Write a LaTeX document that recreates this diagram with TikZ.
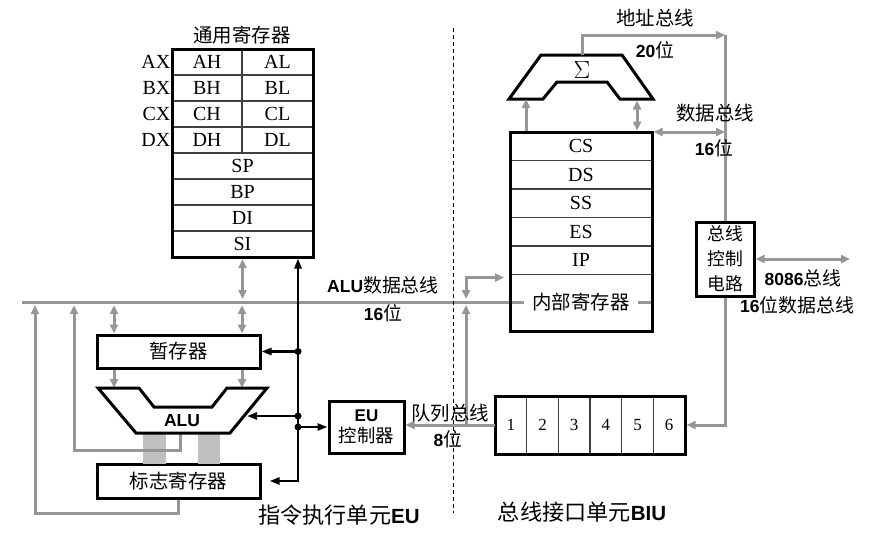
\documentclass[tikz,border=0pt]{standalone}
\usepackage{fontspec}
\setmainfont{Liberation Serif}
\setsansfont{Liberation Sans}
\newfontfamily\cjk[Scale=1.08]{Noto Sans CJK SC}
\newcommand\zh[1]{{\cjk\mdseries #1}}
\usetikzlibrary{arrows.meta,positioning}
\definecolor{busgray}{RGB}{150,150,150}
\definecolor{bargray}{RGB}{192,192,192}
\tikzset{
  regcell/.style={draw=black!75, line width=1.2pt, outer sep=0pt, inner sep=0pt, minimum height=26pt, font=\fontsize{20}{20}\selectfont},
  unitbox/.style={draw, line width=3pt, inner sep=0pt, align=center, font=\fontsize{18}{24}\selectfont\cjk},
  bus/.style={draw=busgray, line width=3pt, >={Triangle[length=9pt,width=8pt]}},
  ctl/.style={draw=black, line width=2.5pt, >={Triangle[length=10pt,width=7pt]}},
  lab/.style={inner sep=0pt, font=\fontsize{17.5}{20}\selectfont\sffamily\bfseries},
  zhlab/.style={inner sep=0pt, font=\fontsize{18}{20}\selectfont\cjk},
  dot/.style={circle, fill, inner sep=0pt, minimum size=7pt},
}
\begin{document}
\begin{tikzpicture}[x=1pt, y=-1pt]
\useasboundingbox (0,0) rectangle (894,536);

% general registers
\node[zhlab] (gtitle) at (242,35) {通用寄存器};
\foreach \r [count=\i] in {A,B,C,D} {
  \node[regcell, minimum width=70pt] (\r H) at (207,36+26*\i) {\r H};
  \node[regcell, minimum width=71pt, right=0pt of \r H] (\r L) {\r L};
  \node[anchor=east, inner sep=1.5pt, font=\fontsize{20}{20}\selectfont] (\r X) at (\r H.west) {\r X};
}
\foreach \n [count=\i] in {SP,BP,DI,SI}
  \node[regcell, minimum width=141pt] (\n) at (242.5,140+26*\i) {\n};
\draw[line width=3pt] (AH.north west) rectangle (SI.south east);

% segment registers
\foreach \n [count=\i] in {CS,DS,SS,ES,IP}
  \node[regcell, minimum width=142pt, minimum height=28.5pt] (\n) at (581,117.75+28.5*\i) {\n};
\node[minimum width=142pt, minimum height=56.5pt, outer sep=0pt, anchor=north] (inreg) at (IP.south) {};

% ALU data bus
\coordinate (busL) at (22,302);
\draw[bus] (busL) -- (busL -| inreg.east);
\node[zhlab, fill=white, inner xsep=8pt, inner ysep=2pt] (inregtxt) at (inreg.center |- busL) {内部寄存器};
\draw[line width=3pt] (CS.north west) rectangle (inreg.south east);
\node[lab] (alubus) at (383,285) {ALU\zh{数据总线}};
\node[lab] (alubusw) at (383,313) {16\zh{位}};

% adder
\draw[line width=3pt, line join=miter] (541,55) -- (622,55) -- (653,99) -- (620,99) -- (607,82) -- (557,82) -- (543,99) -- (509,99) -- cycle;
\node (sig) at (582,70) {\fontsize{23}{23}\selectfont$\Sigma$};
\coordinate (sigT) at (582,55);
\coordinate (sigL) at (526,99);
\coordinate (sigR) at (637,99);
\draw[bus,->,shorten <=1.5pt] (CS.north -| sigL) -- (sigL);
\draw[bus,<->,shorten <=1.5pt,shorten >=1.5pt] (CS.north -| sigR) -- (sigR);

% bus control
\node[unitbox, minimum width=58pt, minimum height=74pt, font=\fontsize{16.5}{25}\selectfont\cjk] (buc) at (725,259) {总线\\控制\\电路};
\coordinate (abus) at (725,35);
\draw[bus,->] (sigT) |- (abus);
\draw[bus] (abus) -- (buc.north);
\node[zhlab] (abuslab) at (655,18) {地址总线};
\node[lab] (abusw) at (655,50) {20\zh{位}};
\draw[bus,<->,shorten <=1.5pt] (CS.north east) -- (CS.north east -| abus);
\node[zhlab] (dbuslab) at (715,113) {数据总线};
\node[lab] (dbusw) at (714,148) {16\zh{位}};
\coordinate (ext) at (850,259);
\draw[bus,<->] (buc.east) -- (ext);
\node[lab] (extlab) at (803,278) {8086\zh{总线}};
\node[lab] (extw) at (797,305) {16\zh{位数据总线}};

% instruction queue
\foreach \i in {1,...,6}
  \node[regcell, line width=1.5pt, minimum width=31.67pt, minimum height=58pt, font=\fontsize{17}{17}\selectfont] (q\i) at (495+31.67*\i-15.83,425) {\i};
\draw[line width=3pt] (q1.north west) rectangle (q6.south east);
\draw[bus,->,shorten >=1.5pt] (buc.south) |- (q6.east);

% EU control
\node[unitbox, minimum width=75pt, minimum height=52pt, font=\fontsize{17}{21}\selectfont\cjk] (euc) at (366.5,427) {\textsf{\bfseries EU}\\控制器};
\draw[bus,->] (q1.west) -- (q1.west -| euc.east);
\coordinate (qj) at (466,425);
\coordinate (biuin) at ([yshift=-3pt]IP.south west);
\draw[bus,->,shorten >=3pt] (qj) -- (qj |- busL);
\draw[bus,<->,shorten <=3pt,shorten >=6pt] (qj |- busL) |- (biuin);
\node[zhlab] (qbuslab) at (450,413) {队列总线};
\node[lab] (qbusw) at (448,439) {8\zh{位}};

% divider
\draw[dashed, dash pattern=on 4pt off 3pt, line width=1pt] (453,28) -- (453,513);

% execution unit
\node[unitbox, minimum width=163pt, minimum height=33pt] (tmp) at (178.5,351.5) {暂存器};
\node[unitbox, minimum width=163pt, minimum height=34pt] (flags) at (178.5,481) {标志寄存器};
\coordinate (xa) at (114,0);
\coordinate (xb) at (242,0);
\coordinate (xc) at (74,0);
\coordinate (xd) at (35,0);
\coordinate (aluT) at (0,388);
\draw[bus,<->,shorten <=2pt,shorten >=3pt] (SI.south) -- (SI.south |- busL);
\foreach \c in {xa,xb} {
  \draw[bus,<->,shorten <=3pt] (\c |- busL) -- (tmp.north -| \c);
  \draw[bus,->] (tmp.south -| \c) -- (\c |- aluT);
}
\fill[bargray] (143,433) rectangle (166,464);
\fill[bargray] (198,433) rectangle (220,464);
\coordinate (aluB) at (180,433);
\coordinate (aluR) at (247,416);
\draw[bus,->,shorten >=3pt] (aluB) -- ++(0,17) -| (xc |- busL);
\draw[bus,->,shorten >=3pt] (flags.south) -- ++(0,14) -| (xd |- busL);
\draw[line width=3pt, line join=miter] (98,388) -- (139,388) -- (154,407) -- (212,407) -- (227,388) -- (267,388) -- (230,433) -- (136,433) -- cycle;
\node[lab] (alu) at (182,421) {ALU};

% control lines
\coordinate (cx) at (298,0);
\draw[ctl,<->,shorten <=1.5pt,shorten >=8pt] (SI.south -| cx) -- (cx |- flags.east) -- (flags.east);
\draw[ctl,->] (cx |- tmp.east) -- (tmp.east);
\draw[ctl,->] (cx |- aluR) -- (aluR);
\draw[ctl,->] (cx |- euc.west) -- (euc.west);
\node[dot] (d1) at (cx |- tmp.east) {};
\node[dot] (d2) at (cx |- aluR) {};
\node[dot] (d3) at (cx |- euc.west) {};

% unit names
\node[font=\fontsize{20.5}{22}\selectfont\cjk] (eulab) at (339,515) {指令执行单元\textsf{\bfseries EU}};
\node[font=\fontsize{20.5}{22}\selectfont\cjk] (biulab) at (582,512) {总线接口单元\textsf{\bfseries BIU}};
\end{tikzpicture}
\end{document}
